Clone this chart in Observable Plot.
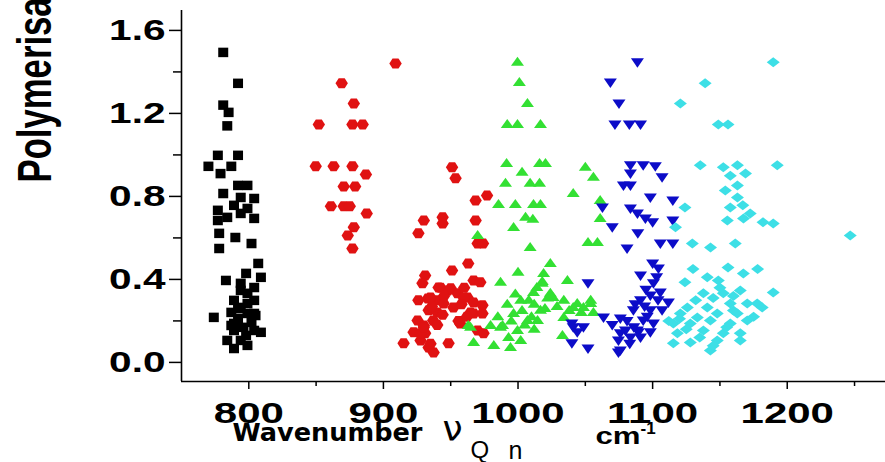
<!DOCTYPE html>
<html><head><meta charset="utf-8">
<script src="https://cdn.jsdelivr.net/npm/d3@7"></script>
<script src="https://cdn.jsdelivr.net/npm/@observablehq/plot@0.6"></script>
<style>html,body{margin:0;padding:0;background:#fff;overflow:hidden}</style>
</head><body><div id="chart"></div>
<script>
// ---- axes / labels ----
const xTicks = [800, 900, 1000, 1100, 1200];
const xTickLabels = ["800", "900", "1000", "1100", "1200"];
const xMinorTicks = [850, 950, 1050, 1150, 1250];
const yTicks = [0, 0.4, 0.8, 1.2, 1.6];
const yTickLabels = ["0.0", "0.4", "0.8", "1.2", "1.6"];
const yMinorTicks = [0.2, 0.6, 1.0, 1.4];
const xDomain = [750, 1273];
const yDomain = [-0.092, 1.696];
const yTitle = ["Polymerisation"];
const xTitle = ["Wavenumber"];
const nuLabel = ["ν"], qLabel = ["Q"], nLabel = ["n"], cmLabel = ["cm"], expLabel = ["-1"];

// ---- series (wavenumber, polymerisation) ----
const blackX = [781,792,781,785,784, 777,792,770,787,779, 792,799,781,794,804, 777,789,799,784,794, 777,804,
  778,790,802,778,807,798,809,783,794,804,799,789,804,794,787,804,774,792,802,809,796,789,784,794,789,799,804,789,799,792,
  794,787,805,798,799];
const blackY = [1.494,1.345,1.24,1.205,1.14, 0.998,0.998,0.945,0.945,0.91, 0.853,0.853,0.814,0.795,0.79, 0.733,0.757,0.742,0.699,0.718, 0.684,0.694,
  0.622,0.602,0.573,0.549,0.477,0.429,0.41,0.395,0.381,0.361,0.333,0.299,0.299,0.265,0.241,0.236,0.217,0.212,0.193,0.145,0.169,0.154,0.106,0.106,0.067,0.082,0.154,0.188,0.236,0.26,
  0.347,0.178,0.226,0.13,0.284];

const redX = [909,869,878,852,877,884.6,849.7,863,877,887,870.5,879,861,870.5,875,887.6,878,873.5,877,
  951,953.6,977,968.5,930,944,944,968.5,926,970,974,963,951,931,967,972,929,942.5,950,955,962.5,933,939,967,973.6,944.7,952,933.6,940,967,973.6,957,925.4,930,970,974.4,922.4,931,915,933.6,937.3,948.4,927.6,937,955.8,948,935,959.6,964.7,941,927.6,930,945,958,936,962,926,940,960,935,944];
const redY = [1.44,1.345,1.248,1.147,1.147,1.147,0.945,0.945,0.945,0.906,0.848,0.848,0.752,0.752,0.752,0.718,0.651,0.612,0.549,
  0.94,0.887,0.805,0.78,0.684,0.699,0.67,0.684,0.622,0.573,0.573,0.477,0.443,0.419,0.395,0.386,0.381,0.36,0.357,0.333,0.313,0.308,0.299,0.289,0.275,0.284,0.265,0.251,0.241,0.236,0.236,0.188,0.202,0.178,0.154,0.14,0.145,0.14,0.092,0.072,0.048,0.092,0.106,0.202,0.2,0.347,0.313,0.313,0.241,0.361,0.14,0.169,0.32,0.28,0.27,0.22,0.3,0.18,0.36,0.09,0.23];

const greenX = [999.6,1001,1007,992,999.6,1016.7,991.5,1016,1020.4,1050,1003,1056,990.7,1009,1016,1041,985.5,998,1011.5,1016.7,1005.6,996.7,1061,1061,1052,1059,1011,
  970,1009,1024,1000,1019,987,1036.7,1018,1014,1011.5,1024,1026,1002,1034,1044,1054,1041,1048.6,1016.7,1056,996.7,1034,1007,1014.5,987,964.7,979.6,963,988.5,999.6,1033,967,982,994.4,1002,
  995,1003,992,1008,998,1010,985,1005,993,1012,1018,1022,1029,1038,1047,1012,1020,1054];
const greenY = [1.446,1.349,1.248,1.147,1.147,1.147,0.959,0.959,0.959,0.94,0.916,0.892,0.863,0.863,0.863,0.814,0.761,0.761,0.761,0.761,0.699,0.65,0.78,0.694,0.578,0.578,0.69,
  0.612,0.554,0.477,0.434,0.429,0.386,0.395,0.381,0.361,0.337,0.333,0.313,0.299,0.299,0.284,0.284,0.265,0.265,0.251,0.241,0.236,0.217,0.202,0.202,0.169,0.169,0.178,0.178,0.178,0.154,0.13,0.096,0.082,0.072,0.106,
  0.2,0.25,0.28,0.3,0.33,0.22,0.22,0.18,0.12,0.16,0.39,0.31,0.27,0.25,0.24,0.28,0.26,0.299];

const blueX = [1088.7,1068.6,1075,1072,1082.7,1091,1083.5,1093,1102,1083.5,1107,1078.3,1083.5,1098.3,1115,1062.7,1083.5,1088.7,1094.6,1100,1115,1070,1089,1081,1105.7,1115,
  1100,1104.3,1091,1052,1100.6,1105.7,1098.3,1091,1111.7,1085.7,1098.3,1107,1063.5,1076,1093,1100.6,1079.8,1089.4,1098.3,1074.6,1083.5,1091,1076,1040,1044,1040,1052,1074.6,1048.6,1041,1088.7,1076,
  1095,1103,1087,1094,1081,1086,1096,1104,1083,1070];
const blueY = [1.446,1.349,1.248,1.147,1.147,1.147,0.95,0.95,0.945,0.91,0.892,0.853,0.853,0.795,0.78,0.747,0.742,0.718,0.694,0.675,0.684,0.651,0.622,0.549,0.573,0.573,
  0.477,0.453,0.419,0.381,0.381,0.337,0.323,0.299,0.289,0.251,0.251,0.251,0.217,0.212,0.202,0.188,0.154,0.145,0.145,0.106,0.12,0.12,0.058,0.188,0.145,0.092,0.067,0.048,0.169,0.169,0.154,0.14,
  0.35,0.41,0.28,0.27,0.2,0.17,0.22,0.3,0.09,0.18];

const cyanX = [1189.6,1139,1120.6,1148.8,1156,1135.4,1152.5,1163,1192.6,1157.7,1169,1163,1154,1163,1124,1157.7,1167,1172.5,1155.5,1167.5,1182,1189.6,1117,1246.8,1129.5,1143,1161.4,
  1156,1167.4,1140.6,1124,1148.8,1189.6,1137.7,1152.5,1165.1,1177.7,1125.8,1140.6,1157.7,1170.3,1120.6,1133.2,1148,1162.9,1115.4,1128,1142.9,1157.7,1170.3,1118.4,1137.7,1152.5,1165.1,1115.4,1128,1148,1165.1,1142.9,1181.4,
  1132,1145,1160,1175,1125,1135,1155,1145,1120,1150,1160,1130,1178,1112];
const cyanY = [1.446,1.345,1.248,1.147,1.147,0.95,0.94,0.95,0.95,0.9,0.91,0.853,0.829,0.795,0.747,0.747,0.757,0.718,0.684,0.694,0.675,0.67,0.651,0.612,0.573,0.554,0.573,
  0.458,0.429,0.41,0.386,0.395,0.337,0.333,0.333,0.347,0.284,0.265,0.265,0.284,0.284,0.236,0.217,0.236,0.236,0.188,0.188,0.202,0.188,0.202,0.14,0.154,0.14,0.14,0.092,0.096,0.106,0.106,0.058,0.265,
  0.3,0.31,0.25,0.22,0.16,0.12,0.17,0.08,0.21,0.36,0.32,0.45,0.45,0.2];

// ---- marker shapes ----
const kf = s => Math.sqrt(s / Math.PI) / 5;
function poly(pts) {
  return {draw(c, s) {
    const f = kf(s);
    c.moveTo(pts[0][0] * f, pts[0][1] * f);
    for (let i = 1; i < pts.length; i++) c.lineTo(pts[i][0] * f, pts[i][1] * f);
    c.closePath();
  }};
}
const symSquare = poly([[-5,-4.75],[5,-4.75],[5,4.75],[-5,4.75]]);
const symHex = poly([[-6.2,0],[-3,-5],[3,-5],[6.2,0],[3,5],[-3,5]]);
const symUp = poly([[0,-5.5],[6.5,3.5],[-6.5,3.5]]);
const symDown = poly([[-6.5,-4],[6.5,-4],[0,5.5]]);
const symDiamond = poly([[0,-5],[6.5,0],[0,5],[-6.5,0]]);

const series = [
  {xs: blackX, ys: blackY, fill: "#000000", symbol: symSquare},
  {xs: redX, ys: redY, fill: "#e01212", symbol: symHex},
  {xs: greenX, ys: greenY, fill: "#33e033", symbol: symUp},
  {xs: blueX, ys: blueY, fill: "#0c0cc8", symbol: symDown},
  {xs: cyanX, ys: cyanY, fill: "#3ddfe6", symbol: symDiamond}
];

const bold = {fontWeight: "bold", fontFamily: "Liberation Sans, Arial, sans-serif"};

const chart = Plot.plot({
  width: 885, height: 462,
  marginLeft: 181, marginRight: 0, marginTop: 10, marginBottom: 81,
  style: {background: "white", color: "black", fontFamily: "Liberation Sans, Arial, sans-serif", overflow: "visible"},
  x: {domain: xDomain, label: null},
  y: {domain: yDomain, label: null},
  marks: [
    ...series.map(s => Plot.dot(s.xs.map((x, i) => ({x, y: s.ys[i]})), {x: "x", y: "y", fill: s.fill, symbol: s.symbol, r: 5, stroke: "none"})),
    Plot.ruleX([xDomain[0]], {strokeWidth: 1.6}),
    Plot.ruleY([yDomain[0]], {strokeWidth: 1.6}),
    Plot.axisY({ticks: yTicks, tickFormat: d => yTickLabels[yTicks.indexOf(d)], tickSize: 12, tickPadding: 4, strokeWidth: 1.5, fontSize: 29, ...bold}),
    Plot.axisY({ticks: yMinorTicks, tickFormat: () => "", tickSize: 8, strokeWidth: 1.5}),
    Plot.axisX({ticks: xTicks, tickFormat: d => xTickLabels[xTicks.indexOf(d)], tickSize: 8, tickPadding: 12, strokeWidth: 1.5, fontSize: 30, ...bold}),
    Plot.axisX({ticks: xMinorTicks, tickFormat: () => "", tickSize: 5, strokeWidth: 1.5}),
    Plot.text(yTitle, {text: d => d, frameAnchor: "top-left", rotate: -90, textAnchor: "start", lineAnchor: "bottom", dx: -131, dy: 172, fontSize: 34.7, ...bold}),
    Plot.text(xTitle, {text: d => d, frameAnchor: "bottom-left", textAnchor: "start", lineAnchor: "bottom", dx: 51, dy: 59, fontSize: 24, fontWeight: "bold", fontFamily: "DejaVu Sans"}),
    Plot.text(nuLabel, {text: d => d, frameAnchor: "bottom-left", textAnchor: "start", lineAnchor: "bottom", dx: 261, dy: 59, fontSize: 36, fontFamily: "DejaVu Sans"}),
    Plot.text(qLabel, {text: d => d, frameAnchor: "bottom-left", textAnchor: "start", lineAnchor: "bottom", dx: 289, dy: 76, fontSize: 24, fontFamily: "Liberation Sans"}),
    Plot.text(nLabel, {text: d => d, frameAnchor: "bottom-left", textAnchor: "start", lineAnchor: "bottom", dx: 327, dy: 77, fontSize: 25, fontFamily: "Liberation Sans"}),
    Plot.text(cmLabel, {text: d => d, frameAnchor: "bottom-left", textAnchor: "start", lineAnchor: "bottom", dx: 414, dy: 62, fontSize: 24, ...bold}),
    Plot.text(expLabel, {text: d => d, frameAnchor: "bottom-left", textAnchor: "start", lineAnchor: "bottom", dx: 459, dy: 52, fontSize: 17, ...bold})
  ]
});
document.getElementById("chart").appendChild(chart);

// stretch text to match the reference's wide glyphs (keeps Plot's own x/y/dy offsets)
function stretch(el, sx, sy) {
  const t = el.getAttribute("transform") || "";
  el.setAttribute("transform", `${t} scale(${sx},${sy})`);
}
chart.querySelectorAll("text").forEach(el => {
  const s = el.textContent;
  if (yTickLabels.includes(s) || xTickLabels.includes(s)) stretch(el, 1.4, 1);
  else if (s === yTitle[0]) stretch(el, 1, 1.4);
  else if (s === cmLabel[0]) stretch(el, 1.3, 1);
  else if (s === xTitle[0]) {
    el.setAttribute("textLength", 190);
    el.setAttribute("lengthAdjust", "spacingAndGlyphs");
  }
});
</script>
</body></html>
